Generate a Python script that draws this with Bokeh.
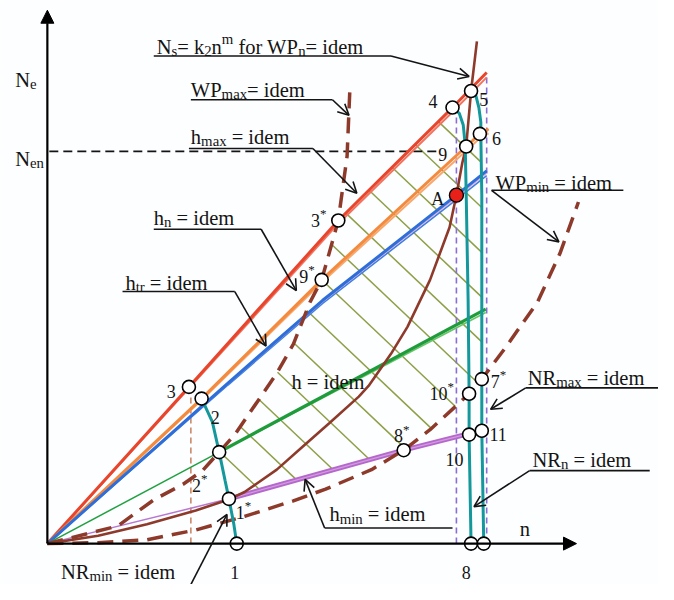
import numpy as np
from bokeh.plotting import figure
from bokeh.models import Range1d, Arrow, OpenHead, NormalHead, ColumnDataSource
from bokeh.core.properties import value, field
from bokeh.embed import file_html
from bokeh.resources import INLINE

# ---------------- data (n, Ne in schematic units, origin at 0,0) ----------------
hmax_n = [0, 144, 298, 415, 450]
hmax_Ne = [0, 160, 332, 448, 484]
hn_n = [0, 158, 281, 429, 443, 452]
hn_Ne = [0, 149, 271, 408, 421, 426]
htr_n = [0, 185, 282, 419, 450]
htr_Ne = [0, 165, 250, 358, 383]
h_n = [0, 176, 449]
h_Ne = [0, 94, 241]
hmin_n = [0, 186, 365, 432]
hmin_Ne = [0, 46, 96, 113]

wpn_n = [0, 52, 102, 152, 185, 202, 235, 262, 289, 319, 329, 352, 369, 392, 412, 419, 425, 429, 434, 440]
wpn_Ne = [0, 8, 20, 34, 45, 53, 76, 100, 124, 151, 162, 195, 223, 271, 325, 358, 391, 408, 465, 516]
wpmax_n = [0, 72, 109, 139, 159, 192, 235, 252, 269, 281, 298, 307, 310]
wpmax_Ne = [0, 18, 45, 61, 75, 112, 175, 205, 248, 271, 332, 398, 470]
wpmin_n = [0, 52, 102, 152, 202, 252, 285, 332, 365, 392, 417, 432, 445, 469, 502, 525, 544]
wpmin_Ne = [0, 1, 4, 14, 28, 44, 56, 76, 96, 117, 140, 154, 169, 201, 248, 298, 351]

nrmin_n = [158, 169, 176, 182, 186, 191, 194]
nrmin_Ne = [149, 125, 94, 65, 46, 20, 0]
nrn_n = [415, 422, 426, 428, 429, 431, 432, 432, 434]
nrn_Ne = [448, 442, 430, 410, 360, 250, 154, 112, 0]
nrmax_n = [434, 439, 442, 444, 444, 445, 445, 445, 445, 447]
nrmax_Ne = [465, 460, 448, 433, 421, 358, 258, 169, 116, 0]

nen_level = 403
nen_end = 400
vline_A_n, vline_A_top = 419, 441
vline_R_n, vline_R_top = 450, 483
vline_3_n, vline_3_top = 147, 158

hatch_b = [814, 768, 722, 676, 630, 584, 538, 492, 446, 400, 354, 308, 262]
hatch_slope = 0.95

circ_n = [194, 186, 176, 158, 145, 298, 281, 415, 434, 443, 429, 432, 445, 432, 445, 365, 434, 447]
circ_Ne = [0, 46, 94, 149, 161, 332, 271, 448, 465, 421, 408, 154, 169, 112, 116, 96, 0, 0]
pointA = (419, 358)

lab_text = ["1", "1*", "2*", "2", "3", "3*", "9*", "4", "5", "6", "9", "A", "10*", "7*", "11", "10", "8*", "8"]
lab_n = [192, 201, 156, 172, 127, 278, 266, 395, 447, 460, 405, 400, 404, 462, 462, 417, 363, 429]
lab_Ne = [-23, 38, 66, 136, 163, 338, 281, 461, 463, 423, 406, 360, 161, 173, 118, 93, 117, -23]

# callouts: runs (n=normal, b=sub, p=sup), text position, underline, arrow
callouts = [
    ([("N", "n"), ("s", "b"), ("= k", "n"), ("2", "b"), ("n", "n"), ("m", "p"), (" for WP", "n"), ("n", "b"), ("= idem", "n")],
     (112, 510), (109, 352, 501), (352, 501, 432, 480)),
    ([("WP", "n"), ("max", "b"), ("= idem", "n")], (147, 466), (147, 292, 456), (292, 456, 309, 440)),
    ([("h", "n"), ("max", "b"), (" = idem", "n")], (147, 418), (145, 272, 406), (272, 406, 317, 360)),
    ([("h", "n"), ("n", "b"), (" = idem", "n")], (109, 335), (109, 219, 323), (219, 323, 255, 260)),
    ([("h", "n"), ("tr", "b"), (" = idem", "n")], (80, 268), (77, 192, 259), (192, 259, 224, 203)),
    ([("h = idem", "n")], (250, 166), None, None),
    ([("h", "n"), ("min", "b"), (" = idem", "n")], (289, 30), (284, 415, 16), (284, 16, 264, 66)),
    ([("NR", "n"), ("min", "b"), (" = idem", "n")], (14, -29), None, (147, -42, 184, 30)),
    ([("NR", "n"), ("max", "b"), (" = idem", "n")], (492, 170), (490, 626, 160), (490, 160, 454, 138)),
    ([("NR", "n"), ("n", "b"), (" = idem", "n")], (497, 86), (494, 617, 75), (494, 75, 437, 38)),
    ([("WP", "n"), ("min", "b"), (" = idem", "n")], (459, 371), (455, 590, 363), (455, 363, 524, 310)),
    ([("N", "n"), ("e", "b")], (-33, 476), None, None),
    ([("N", "n"), ("en", "b")], (-33, 395), None, None),
    ([("n", "n")], (484, 15), None, None),
]

# ---------------- figure ----------------
W, H = 658, 584
SX, SY = W / 674.0, H / 600.0
p = figure(width=W, height=H, x_range=Range1d(-48, 626), y_range=Range1d(-42, 558),
           output_backend="svg", toolbar_location=None, min_border=0,
           x_axis_location=None, y_axis_location=None)
p.grid.visible = False
p.outline_line_color = None
p.background_fill_color = "#FDFEFF"
p.border_fill_color = "#FDFEFF"

RED, RED2 = "#E8452C", "#F07560"
ORG, ORG2 = "#F38A3E", "#F7A86E"
BLUE, BLUE2, PINK = "#2E6ED8", "#3F80E2", "#E6A4D8"
GRN, GRN2 = "#1E9B3A", "#66C466"
PUR, PUR2 = "#B468CC", "#D49BE0"
BRN = "#8E3A2B"
TEAL = "#15989C"
HATCH = "#8E9F46"
INK = "#141414"

def arr(a):
    return np.asarray(a, dtype=float)

# hatch lines clipped to the operating region
def inside(n, ne):
    red = np.interp(n, hmax_n, hmax_Ne)
    pur = np.interp(n, hmin_n, hmin_Ne)
    wmin = np.interp(n, wpmin_n, wpmin_Ne)
    wmax_n = np.interp(ne, wpmax_Ne, wpmax_n)
    nrm = np.interp(ne, arr(nrmax_Ne)[::-1], arr(nrmax_n)[::-1])
    return (ne <= red) & (ne >= pur) & (ne >= wmin) & (n >= wmax_n) & (n <= nrm)

hx, hy = [], []
ns = np.arange(0, 470, 0.25)
for b in hatch_b:
    ne = b - hatch_slope * ns
    m = inside(ns, ne)
    if m.any():
        idx = np.where(m)[0]
        hx.append([ns[idx[0]], ns[idx[-1]]])
        hy.append([ne[idx[0]], ne[idx[-1]]])
p.multi_line(hx, hy, line_color=HATCH, line_width=1.5)

# dashed verticals and Nen level
p.line([vline_A_n, vline_A_n], [0, vline_A_top], line_color="#8A6ED4", line_width=1.6, line_dash="6 4")
p.line([vline_R_n, vline_R_n], [0, vline_R_top], line_color="#8A6ED4", line_width=1.6, line_dash="6 4")
p.line([vline_3_n, vline_3_n], [0, vline_3_top], line_color="#C8805E", line_width=1.5, line_dash="6 4")
p.line([2, nen_end], [nen_level, nen_level], line_color=INK, line_width=1.6, line_dash="9 5")

def band(nv, nev, offs, colors, widths):
    nv, nev = arr(nv), arr(nev)
    for off, c, w in zip(offs, colors, widths):
        p.line(nv, nev - off * nv / nv.max(), line_color=c, line_width=w)

band(hmax_n, hmax_Ne, [5, 0], [RED2, RED], [2.0, 3.0])
band(hn_n, hn_Ne, [4.5, 0], [ORG2, ORG], [2.0, 3.0])
band(htr_n, htr_Ne, [5, 2.5, 0], [BLUE2, PINK, BLUE], [1.6, 1.2, 3.0])
# green: thin to 2*, thick beyond
p.line(h_n[:2], h_Ne[:2], line_color="#22A040", line_width=1.5)
gn, ge = arr(h_n[1:]), arr(h_Ne[1:])
p.line(gn, ge - 3.5 * (gn - gn[0]) / (gn[-1] - gn[0]), line_color=GRN2, line_width=1.6)
p.line(gn, ge, line_color=GRN, line_width=3.2)
# purple: thin to 1*, thick beyond
p.line(hmin_n[:2], hmin_Ne[:2], line_color="#B878D0", line_width=1.5)
p.line(hmin_n[1:], hmin_Ne[1:], line_color=PUR, line_width=5)
p.line(hmin_n[1:], hmin_Ne[1:], line_color=PUR2, line_width=1.2)

# brown curves
p.line(wpmax_n, wpmax_Ne, line_color=BRN, line_width=3.5, line_dash="16 9")
p.line(wpmin_n, wpmin_Ne, line_color=BRN, line_width=3.5, line_dash="16 9")
p.line(wpn_n, wpn_Ne, line_color=BRN, line_width=2.6)

# teal NR curves
for nv, ev in [(nrmin_n, nrmin_Ne), (nrn_n, nrn_Ne), (nrmax_n, nrmax_Ne)]:
    p.line(nv, ev, line_color=TEAL, line_width=3)

# axes with arrows
p.add_layout(Arrow(end=NormalHead(size=13, fill_color="black", line_color="black"),
                   x_start=0, y_start=0, x_end=0, y_end=548, line_width=2.2, line_color="black"))
p.add_layout(Arrow(end=NormalHead(size=13, fill_color="black", line_color="black"),
                   x_start=0, y_start=0, x_end=542, y_end=0, line_width=2.2, line_color="black"))

# leaders
for runs, pos, ul, ar in callouts:
    if ul is not None:
        p.line([ul[0], ul[1]], [ul[2], ul[2]], line_color=INK, line_width=1.6)
    if ar is not None:
        p.add_layout(Arrow(end=OpenHead(size=11, line_width=1.6, line_color=INK),
                           x_start=ar[0], y_start=ar[1], x_end=ar[2], y_end=ar[3],
                           line_width=1.6, line_color=INK))

# points
p.scatter(circ_n, circ_Ne, size=13, fill_color="white", line_color="black", line_width=1.6)
p.scatter([pointA[0]], [pointA[1]], size=14, fill_color="#E8201A", line_color="black", line_width=1.4)

# ---------------- text layout (Times metrics) ----------------
TW = {' ': 250, '=': 564, 'N': 722, 'W': 944, 'P': 556, 'R': 667, 'A': 722, 'h': 500, 'i': 278,
      'd': 500, 'e': 444, 'm': 778, 'k': 500, 'n': 500, 'f': 333, 'o': 500, 'r': 333, 's': 389,
      'a': 444, 'x': 500, 't': 278, '*': 500}
for d in "0123456789":
    TW[d] = 500
txt = dict(x=[], y=[], text=[], size=[])

def rich(x, y, runs, fs, align="left", middle=False):
    pieces, total = [], 0.0
    for s, kind in runs:
        f = fs if kind == "n" else fs * 0.72
        lead = len(s) - len(s.lstrip(" "))
        lead_w = lead * TW[' '] * f / 1000.0
        w = sum(TW.get(ch, 500) for ch in s) * f / 1000.0
        dy = 0.0 if kind == "n" else (-0.2 * fs if kind == "b" else 0.38 * fs)
        pieces.append((s.strip(" "), f, total + lead_w, dy))
        total += w
    x0 = x - (total / 2) / SX if align == "center" else x
    y0 = y - 0.34 * fs / SY if middle else y
    for s, f, off, dy in pieces:
        txt["x"].append(x0 + off / SX)
        txt["y"].append(y0 + dy / SY)
        txt["text"].append(s)
        txt["size"].append("%.1fpx" % f)

for runs, pos, ul, ar in callouts:
    rich(pos[0], pos[1], runs, 20.5)

for t, xn, yn in zip(lab_text, lab_n, lab_Ne):
    runs = [(t.rstrip("*"), "n")] + ([("*", "p")] if t.endswith("*") else [])
    rich(xn, yn, runs, 18, align="center", middle=True)

p.text(x="x", y="y", text="text", source=ColumnDataSource(txt), text_font_size=field("size"),
       text_font=value("Liberation Serif"), text_color=INK, text_align="left",
       text_baseline="alphabetic")

open("out.html", "w").write(file_html(p, INLINE))
